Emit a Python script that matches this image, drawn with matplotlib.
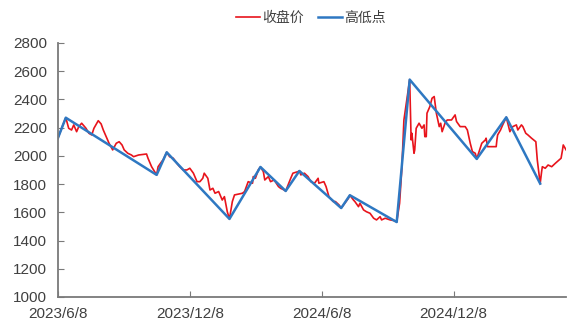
import pandas as pd
import numpy as np
from matplotlib import pyplot as plt
import matplotlib.dates as mdates

plt.rcParams['font.family'] = ['Liberation Sans', 'Noto Sans CJK SC', 'DejaVu Sans']

# closing price
close_dates = [
    "2023-06-08", "2023-06-15", "2023-06-19", "2023-06-23", "2023-06-27", "2023-06-30", "2023-07-04",
    "2023-07-07", "2023-07-11", "2023-07-17", "2023-07-21", "2023-07-25", "2023-07-28", "2023-08-01",
    "2023-08-03", "2023-08-07", "2023-08-10", "2023-08-14", "2023-08-18", "2023-08-23", "2023-08-28",
    "2023-09-01", "2023-09-05", "2023-09-08", "2023-09-13", "2023-09-18", "2023-09-21", "2023-09-28",
    "2023-10-09", "2023-10-11", "2023-10-16", "2023-10-23", "2023-10-25", "2023-10-30", "2023-11-01",
    "2023-11-06", "2023-11-10", "2023-11-15", "2023-11-20", "2023-11-24", "2023-11-29", "2023-12-04",
    "2023-12-08", "2023-12-13", "2023-12-18", "2023-12-22", "2023-12-26", "2023-12-28", "2024-01-02",
    "2024-01-05", "2024-01-09", "2024-01-12", "2024-01-17", "2024-01-22", "2024-01-25", "2024-01-29",
    "2024-02-01", "2024-02-05", "2024-02-08", "2024-02-19", "2024-02-22", "2024-02-27", "2024-03-04",
    "2024-03-05", "2024-03-08", "2024-03-12", "2024-03-15", "2024-03-19", "2024-03-21", "2024-03-26",
    "2024-03-29", "2024-04-03", "2024-04-09", "2024-04-12", "2024-04-17", "2024-04-19", "2024-04-26",
    "2024-04-29", "2024-05-06", "2024-05-08", "2024-05-10", "2024-05-15", "2024-05-20", "2024-05-24",
    "2024-05-29", "2024-06-03", "2024-06-04", "2024-06-11", "2024-06-14", "2024-06-18", "2024-06-24",
    "2024-06-27", "2024-07-02", "2024-07-05", "2024-07-10", "2024-07-15", "2024-07-17", "2024-07-22",
    "2024-07-24", "2024-07-29", "2024-07-31", "2024-08-05", "2024-08-09", "2024-08-14", "2024-08-19",
    "2024-08-23", "2024-08-28", "2024-08-30", "2024-09-04", "2024-09-11", "2024-09-18", "2024-09-20",
    "2024-09-24", "2024-09-27", "2024-09-30", "2024-10-08", "2024-10-09", "2024-10-10", "2024-10-11",
    "2024-10-14", "2024-10-15", "2024-10-17", "2024-10-21", "2024-10-25", "2024-10-28", "2024-10-29",
    "2024-10-31", "2024-11-01", "2024-11-05", "2024-11-08", "2024-11-11", "2024-11-14", "2024-11-18",
    "2024-11-20", "2024-11-22", "2024-11-26", "2024-11-29", "2024-12-05", "2024-12-10", "2024-12-12",
    "2024-12-17", "2024-12-24", "2024-12-27", "2024-12-31", "2025-01-03", "2025-01-07", "2025-01-09",
    "2025-01-13", "2025-01-16", "2025-01-21", "2025-01-22", "2025-01-24", "2025-02-05", "2025-02-06",
    "2025-02-07", "2025-02-11", "2025-02-14", "2025-02-19", "2025-02-21", "2025-02-24", "2025-02-28",
    "2025-03-05", "2025-03-07", "2025-03-12", "2025-03-14", "2025-03-18", "2025-03-21", "2025-03-26",
    "2025-04-01", "2025-04-03", "2025-04-07", "2025-04-09", "2025-04-10", "2025-04-14", "2025-04-18",
    "2025-04-23", "2025-04-28", "2025-05-06", "2025-05-08", "2025-05-09", "2025-05-13",
]
close_values = [
    2125, 2219, 2270, 2195, 2183, 2219, 2171,
    2207, 2231, 2195, 2160, 2148, 2195, 2231,
    2249, 2226, 2183, 2136, 2089, 2042, 2089,
    2100, 2077, 2042, 2018, 2006, 1994, 2006,
    2013, 1983, 1923, 1865, 1923, 1959, 1971,
    2025, 1994, 1983, 1947, 1923, 1900, 1900,
    1912, 1877, 1817, 1817, 1841, 1877, 1841,
    1758, 1770, 1735, 1747, 1687, 1711, 1604,
    1553, 1676, 1723, 1735, 1747, 1817, 1806,
    1853, 1841, 1900, 1921, 1888, 1829, 1853,
    1817, 1829, 1782, 1770, 1758, 1751, 1841,
    1877, 1888, 1893, 1865, 1877, 1853, 1817,
    1806, 1841, 1806, 1817, 1782, 1711, 1676,
    1676, 1652, 1630, 1664, 1699, 1721, 1687,
    1676, 1640, 1664, 1617, 1604, 1593, 1558,
    1546, 1569, 1546, 1558, 1546, 1540, 1531,
    1664, 1900, 2254, 2540, 2325, 2113, 2160,
    2018, 2042, 2195, 2231, 2195, 2219, 2136,
    2136, 2302, 2349, 2408, 2420, 2302, 2207,
    2231, 2171, 2231, 2254, 2254, 2290, 2243,
    2207, 2207, 2183, 2089, 2030, 2018, 1978,
    2042, 2089, 2113, 2125, 2065, 2065, 2113,
    2148, 2183, 2219, 2273, 2231, 2171, 2207,
    2219, 2183, 2219, 2207, 2160, 2148, 2125,
    2100, 1971, 1803, 1888, 1923, 1912, 1935,
    1923, 1947, 1983, 2042, 2077, 2042,
]

# swing highs / lows
pivot_dates = [
    "2023-06-08", "2023-06-19", "2023-10-23", "2023-11-06", "2024-02-01", "2024-03-15", "2024-04-19",
    "2024-05-08", "2024-07-05", "2024-07-17", "2024-09-20", "2024-10-08", "2025-01-09", "2025-02-19",
    "2025-04-07",
]
pivot_values = [2125, 2270, 1865, 2025, 1553, 1921, 1751, 1893, 1630, 1721, 1531, 2540, 1978, 2273, 1803]

tick_dates = ["2023-06-08", "2023-12-08", "2024-06-08", "2024-12-08"]
tick_labels = ["2023/6/8", "2023/12/8", "2024/6/8", "2024/12/8"]

close = pd.Series(close_values, index=pd.to_datetime(close_dates))
pivots = pd.Series(pivot_values, index=pd.to_datetime(pivot_dates))

fig = plt.figure(figsize=(5.73, 3.30), dpi=100)
ax = fig.add_axes([0.101, 0.1, 0.887, 0.77])

ax.plot(close.index, close.values, color='#e8141c', lw=1.2, label='收盘价')
ax.plot(pivots.index, pivots.values, color='#2e78c2', lw=1.8, label='高低点')

ax.set_ylim(1000, 2800)
ax.set_yticks(np.arange(1000, 2801, 200))
ax.set_xlim(close.index[0], close.index[-1])
ax.set_xticks(pd.to_datetime(tick_dates))
ax.set_xticklabels(tick_labels)

for s in ['top', 'right']:
    ax.spines[s].set_visible(False)
for s in ['left', 'bottom']:
    ax.spines[s].set_color('#7a7a7a')
    ax.spines[s].set_linewidth(1.3)
ax.tick_params(axis='both', direction='in', length=4, color='#7a7a7a', labelsize=11, labelcolor='#404040')
ax.tick_params(axis='y', pad=8)
ax.tick_params(axis='x', pad=7)

fig.legend(loc='center', bbox_to_anchor=(0.543, 0.945), ncol=2, frameon=False,
           prop={'family': ['Noto Sans CJK SC'], 'size': 10}, handlelength=1.7,
           handletextpad=0.2, columnspacing=1.0, labelcolor='#404040')

plt.savefig("out.png", dpi=100)
